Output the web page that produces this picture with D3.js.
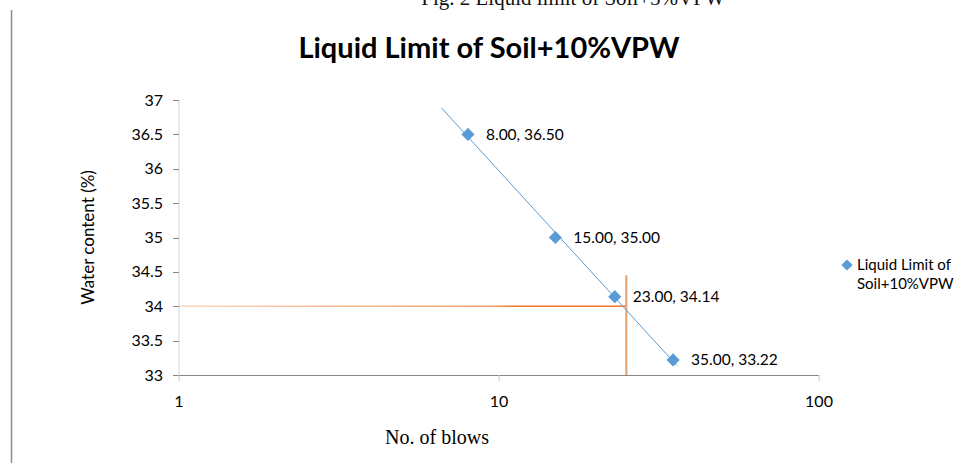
<!DOCTYPE html>
<html>
<head>
<meta charset="utf-8">
<script src="https://cdn.jsdelivr.net/npm/d3@7"></script>
<style>
  body { margin: 0; background: #fff; }
  svg { display: block; }
</style>
</head>
<body>
<div id="chart"></div>
<script>
/* Datos del gráfico */
const blows = [8, 15, 23, 35];
const water = [36.5, 35.0, 34.14, 33.22];
const yTicks = [33, 33.5, 34, 34.5, 35, 35.5, 36, 36.5, 37];
const xTicks = [1, 10, 100];
const trendRange = [6.6, 36];         // extensión de la línea de tendencia (golpes)
const llBlows = [25];                 // golpes estándar para límite líquido
const llWater = [34];                 // contenido de agua leído
const llTop = [34.45];                // altura de la guía vertical

const seriesName = ["Liquid Limit of", "Soil+10%VPW"];

const W = 958, H = 463;
const margin = { left: 179, right: 958 - 819, top: 100, bottom: 463 - 375 };

const svg = d3.select("#chart").append("svg")
  .attr("width", W).attr("height", H);

const x = d3.scaleLog().domain([1, 100]).range([margin.left, W - margin.right]);
const y = d3.scaleLinear().domain([33, 37]).range([H - margin.bottom, margin.top]);

const BLUE = "#5b9bd5";
const sans = "Lato, 'Open Sans', sans-serif";

// borde de página a la izquierda
svg.append("line")
  .attr("x1", 11.5).attr("x2", 11.5).attr("y1", 10).attr("y2", H)
  .attr("stroke", "#8c8c8c").attr("stroke-width", 1.5);

// texto del pie de figura anterior (cortado arriba, igual que en el original)
svg.append("text")
  .attr("x", 573).attr("y", 5)
  .attr("text-anchor", "middle")
  .attr("font-family", "'Liberation Serif', 'Times New Roman', serif")
  .attr("font-size", 21)
  .attr("fill", "#111")
  .text("Fig. 2 Liquid limit of Soil+5%VPW");

// título
svg.append("text")
  .attr("x", 489).attr("y", 58)
  .attr("text-anchor", "middle")
  .attr("font-family", sans)
  .attr("font-weight", "bold")
  .attr("font-size", 29)
  .attr("fill", "#000")
  .text("Liquid Limit of Soil+10%VPW");

// eje Y
svg.append("line")
  .attr("x1", x(1)).attr("x2", x(1))
  .attr("y1", y(37)).attr("y2", y(33))
  .attr("stroke", "#d4d4d4");

const yg = svg.append("g");
yg.selectAll("line").data(yTicks).enter().append("line")
  .attr("x1", x(1) - 6).attr("x2", x(1))
  .attr("y1", d => Math.round(y(d)) + 0.5).attr("y2", d => Math.round(y(d)) + 0.5)
  .attr("stroke", "#868686");
yg.selectAll("text").data(yTicks).enter().append("text")
  .attr("x", x(1) - 16).attr("y", d => y(d) + 5.5)
  .attr("text-anchor", "end")
  .attr("font-family", sans).attr("font-size", 16)
  .attr("fill", "#000")
  .text(d => d3.format("~g")(d));

// eje X
svg.append("line")
  .attr("x1", x(1)).attr("x2", x(100))
  .attr("y1", Math.round(y(33)) + 0.5).attr("y2", Math.round(y(33)) + 0.5)
  .attr("stroke", "#868686");

const xg = svg.append("g");
xg.selectAll("line").data(xTicks).enter().append("line")
  .attr("x1", d => x(d)).attr("x2", d => x(d))
  .attr("y1", y(33)).attr("y2", y(33) + 6)
  .attr("stroke", "#c8c8c8");
xg.selectAll("text").data(xTicks).enter().append("text")
  .attr("x", d => x(d)).attr("y", y(33) + 32)
  .attr("text-anchor", "middle")
  .attr("font-family", sans).attr("font-size", 16)
  .attr("fill", "#000")
  .text(d => d);

// títulos de ejes
svg.append("text")
  .attr("transform", `translate(94,${(y(37) + y(33)) / 2}) rotate(-90)`)
  .attr("text-anchor", "middle")
  .attr("font-family", sans).attr("font-size", 17)
  .attr("fill", "#000")
  .text("Water content (%)");

svg.append("text")
  .attr("x", 437).attr("y", 444)
  .attr("text-anchor", "middle")
  .attr("font-family", "'Liberation Serif', 'Times New Roman', serif")
  .attr("font-size", 20)
  .attr("fill", "#000")
  .text("No. of blows");

// líneas guía naranjas
const defs = svg.append("defs");
const grad = defs.append("linearGradient").attr("id", "hgrad")
  .attr("x1", "0%").attr("x2", "100%");
grad.append("stop").attr("offset", "0%").attr("stop-color", "#fbd8bd");
grad.append("stop").attr("offset", "70%").attr("stop-color", "#f4a068");
grad.append("stop").attr("offset", "75%").attr("stop-color", "#f07424");
grad.append("stop").attr("offset", "100%").attr("stop-color", "#f07424");

svg.append("rect")
  .attr("x", x(1)).attr("y", y(llWater[0]) - 0.75)
  .attr("width", x(llBlows[0]) - x(1)).attr("height", 1.5)
  .attr("fill", "url(#hgrad)");

svg.append("line")
  .attr("x1", x(llBlows[0])).attr("x2", x(llBlows[0]))
  .attr("y1", y(llTop[0])).attr("y2", y(33))
  .attr("stroke", "#e3a16d").attr("stroke-width", 2);

// línea de tendencia logarítmica (regresión por mínimos cuadrados)
const lx = blows.map(Math.log);
const mx = d3.mean(lx), my = d3.mean(water);
const slope = d3.sum(lx, (v, i) => (v - mx) * (water[i] - my)) / d3.sum(lx, v => (v - mx) ** 2);
const icpt = my - slope * mx;
const trend = trendRange.map(b => [b, icpt + slope * Math.log(b)]);

svg.append("path")
  .datum(trend)
  .attr("d", d3.line().x(d => x(d[0])).y(d => y(d[1])))
  .attr("stroke", BLUE).attr("stroke-width", 1).attr("fill", "none");

// marcadores
const pts = blows.map((b, i) => ({ b, w: water[i] }));
const diamond = d3.symbol().type(d3.symbolDiamond2).size(110);

svg.selectAll("path.pt").data(pts).enter().append("path")
  .attr("class", "pt")
  .attr("d", diamond)
  .attr("transform", d => `translate(${x(d.b)},${y(d.w)})`)
  .attr("fill", BLUE);

svg.selectAll("text.lbl").data(pts).enter().append("text")
  .attr("class", "lbl")
  .attr("x", d => x(d.b) + 18).attr("y", d => y(d.w) + 5.5)
  .attr("font-family", sans).attr("font-size", 15.5)
  .attr("fill", "#000")
  .text(d => `${d.b.toFixed(2)}, ${d.w.toFixed(2)}`);

// leyenda
svg.append("path")
  .attr("d", d3.symbol().type(d3.symbolDiamond2).size(80))
  .attr("transform", "translate(847,265)")
  .attr("fill", BLUE);

svg.selectAll("text.leg").data(seriesName).enter().append("text")
  .attr("class", "leg")
  .attr("x", 857).attr("y", (d, i) => 270 + i * 19)
  .attr("font-family", sans).attr("font-size", 15)
  .attr("fill", "#000")
  .text(d => d);
</script>
</body>
</html>
